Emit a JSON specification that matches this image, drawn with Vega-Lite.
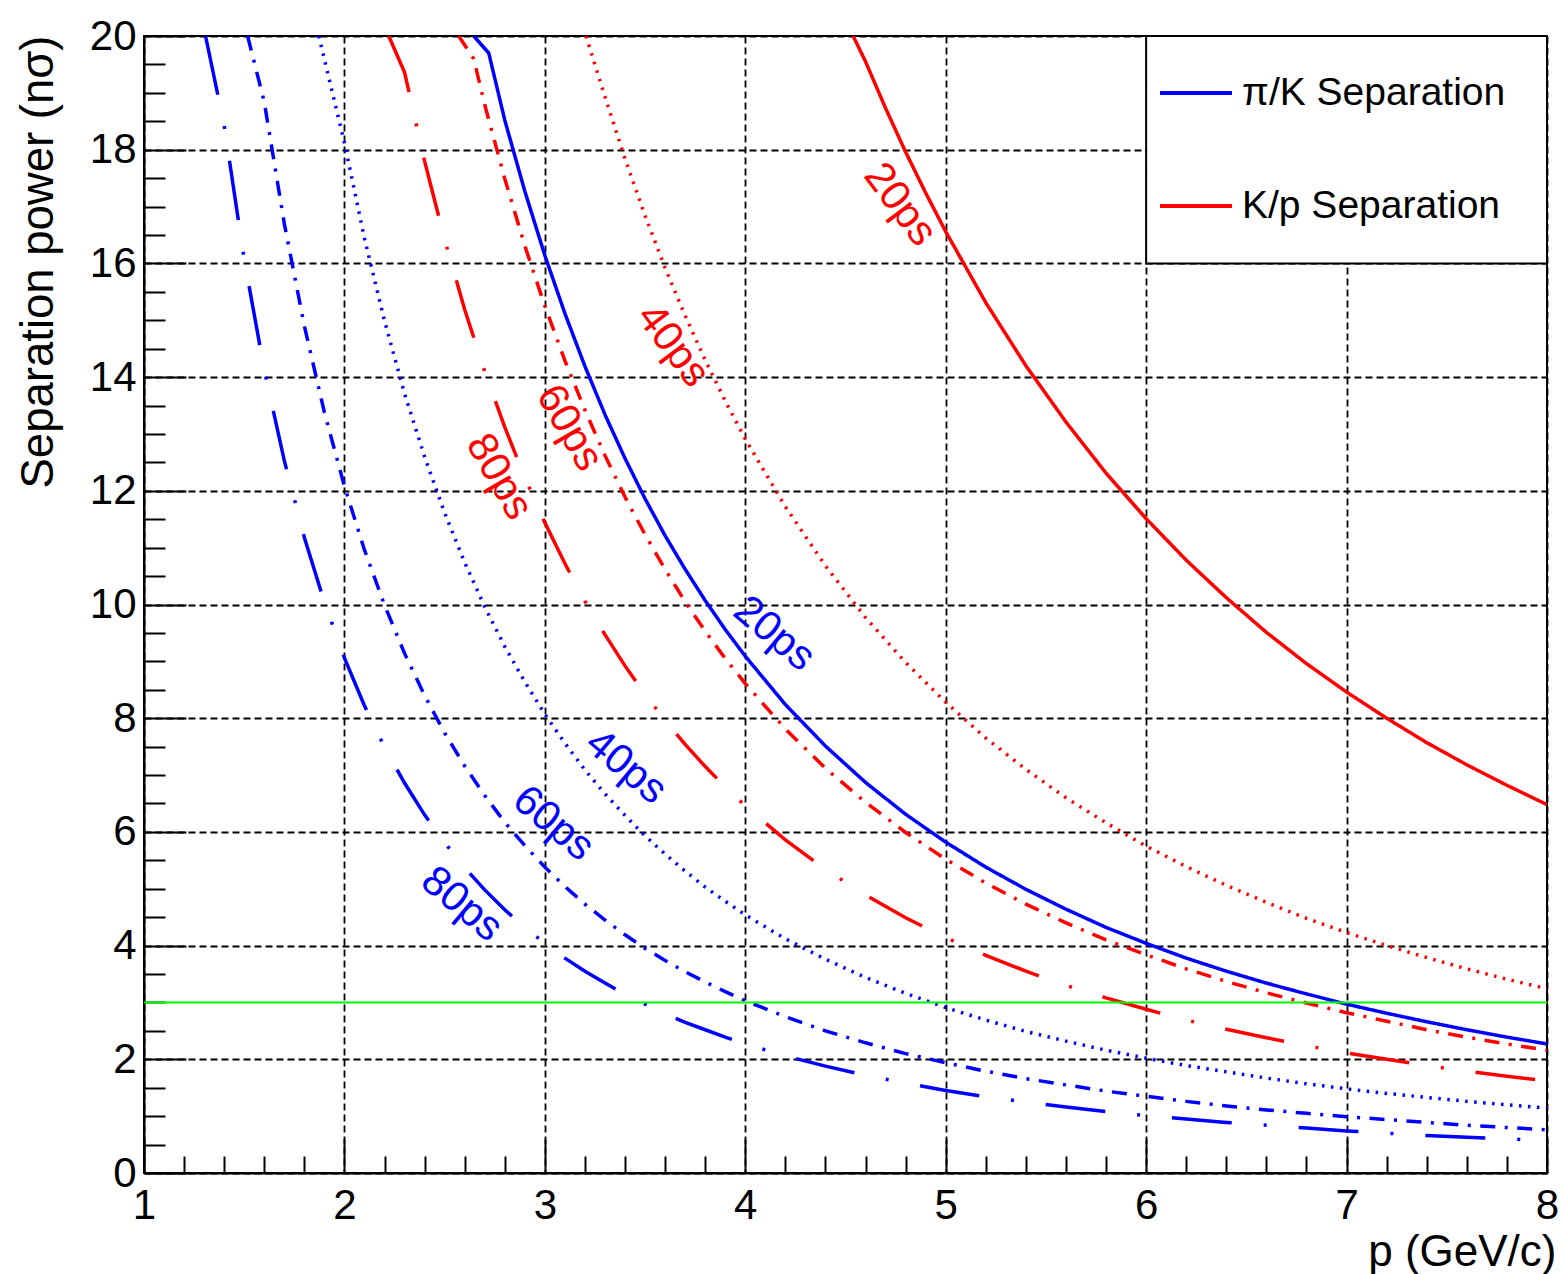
{
"$schema": "https://vega.github.io/schema/vega-lite/v6.json",
"width": 1403, "height": 1137,
"autosize": {"type": "none"},
"padding": {"left": 144, "top": 36, "right": 15, "bottom": 101},
"background": "white",
"config": {"view": {"stroke": "black", "strokeWidth": 2}, "font": "Liberation Sans"},
"datasets": {
"curves": [
{"p":2.645,"n":20,"pair":"π/K Separation","res":"20ps"},{"p":2.72,"n":19.7,"pair":"π/K Separation","res":"20ps"},{"p":2.8,"n":18.52,"pair":"π/K Separation","res":"20ps"},{"p":2.9,"n":17.27,"pair":"π/K Separation","res":"20ps"},{"p":3.0,"n":16.14,"pair":"π/K Separation","res":"20ps"},{"p":3.1,"n":15.12,"pair":"π/K Separation","res":"20ps"},{"p":3.2,"n":14.19,"pair":"π/K Separation","res":"20ps"},{"p":3.3,"n":13.34,"pair":"π/K Separation","res":"20ps"},{"p":3.4,"n":12.57,"pair":"π/K Separation","res":"20ps"},{"p":3.5,"n":11.86,"pair":"π/K Separation","res":"20ps"},{"p":3.6,"n":11.21,"pair":"π/K Separation","res":"20ps"},{"p":3.7,"n":10.62,"pair":"π/K Separation","res":"20ps"},{"p":3.8,"n":10.07,"pair":"π/K Separation","res":"20ps"},{"p":3.9,"n":9.56,"pair":"π/K Separation","res":"20ps"},{"p":4.0,"n":9.09,"pair":"π/K Separation","res":"20ps"},{"p":4.2,"n":8.24,"pair":"π/K Separation","res":"20ps"},{"p":4.4,"n":7.51,"pair":"π/K Separation","res":"20ps"},{"p":4.6,"n":6.87,"pair":"π/K Separation","res":"20ps"},{"p":4.8,"n":6.31,"pair":"π/K Separation","res":"20ps"},{"p":5.0,"n":5.82,"pair":"π/K Separation","res":"20ps"},{"p":5.2,"n":5.38,"pair":"π/K Separation","res":"20ps"},{"p":5.4,"n":4.99,"pair":"π/K Separation","res":"20ps"},{"p":5.6,"n":4.64,"pair":"π/K Separation","res":"20ps"},{"p":5.8,"n":4.32,"pair":"π/K Separation","res":"20ps"},{"p":6.0,"n":4.04,"pair":"π/K Separation","res":"20ps"},{"p":6.2,"n":3.78,"pair":"π/K Separation","res":"20ps"},{"p":6.4,"n":3.55,"pair":"π/K Separation","res":"20ps"},{"p":6.6,"n":3.34,"pair":"π/K Separation","res":"20ps"},{"p":6.8,"n":3.15,"pair":"π/K Separation","res":"20ps"},{"p":7.0,"n":2.97,"pair":"π/K Separation","res":"20ps"},{"p":7.2,"n":2.81,"pair":"π/K Separation","res":"20ps"},{"p":7.4,"n":2.66,"pair":"π/K Separation","res":"20ps"},{"p":7.6,"n":2.52,"pair":"π/K Separation","res":"20ps"},{"p":7.8,"n":2.39,"pair":"π/K Separation","res":"20ps"},{"p":8.0,"n":2.27,"pair":"π/K Separation","res":"20ps"},
{"p":1.872,"n":20,"pair":"π/K Separation","res":"40ps"},{"p":2.0,"n":18.12,"pair":"π/K Separation","res":"40ps"},{"p":2.1,"n":16.44,"pair":"π/K Separation","res":"40ps"},{"p":2.2,"n":14.99,"pair":"π/K Separation","res":"40ps"},{"p":2.3,"n":13.71,"pair":"π/K Separation","res":"40ps"},{"p":2.4,"n":12.6,"pair":"π/K Separation","res":"40ps"},{"p":2.5,"n":11.61,"pair":"π/K Separation","res":"40ps"},{"p":2.6,"n":10.74,"pair":"π/K Separation","res":"40ps"},{"p":2.7,"n":9.96,"pair":"π/K Separation","res":"40ps"},{"p":2.8,"n":9.26,"pair":"π/K Separation","res":"40ps"},{"p":2.9,"n":8.64,"pair":"π/K Separation","res":"40ps"},{"p":3.0,"n":8.07,"pair":"π/K Separation","res":"40ps"},{"p":3.1,"n":7.56,"pair":"π/K Separation","res":"40ps"},{"p":3.2,"n":7.09,"pair":"π/K Separation","res":"40ps"},{"p":3.3,"n":6.67,"pair":"π/K Separation","res":"40ps"},{"p":3.4,"n":6.29,"pair":"π/K Separation","res":"40ps"},{"p":3.5,"n":5.93,"pair":"π/K Separation","res":"40ps"},{"p":3.6,"n":5.61,"pair":"π/K Separation","res":"40ps"},{"p":3.7,"n":5.31,"pair":"π/K Separation","res":"40ps"},{"p":3.8,"n":5.03,"pair":"π/K Separation","res":"40ps"},{"p":3.9,"n":4.78,"pair":"π/K Separation","res":"40ps"},{"p":4.0,"n":4.54,"pair":"π/K Separation","res":"40ps"},{"p":4.2,"n":4.12,"pair":"π/K Separation","res":"40ps"},{"p":4.4,"n":3.76,"pair":"π/K Separation","res":"40ps"},{"p":4.6,"n":3.44,"pair":"π/K Separation","res":"40ps"},{"p":4.8,"n":3.16,"pair":"π/K Separation","res":"40ps"},{"p":5.0,"n":2.91,"pair":"π/K Separation","res":"40ps"},{"p":5.2,"n":2.69,"pair":"π/K Separation","res":"40ps"},{"p":5.4,"n":2.49,"pair":"π/K Separation","res":"40ps"},{"p":5.6,"n":2.32,"pair":"π/K Separation","res":"40ps"},{"p":5.8,"n":2.16,"pair":"π/K Separation","res":"40ps"},{"p":6.0,"n":2.02,"pair":"π/K Separation","res":"40ps"},{"p":6.2,"n":1.89,"pair":"π/K Separation","res":"40ps"},{"p":6.4,"n":1.78,"pair":"π/K Separation","res":"40ps"},{"p":6.6,"n":1.67,"pair":"π/K Separation","res":"40ps"},{"p":6.8,"n":1.57,"pair":"π/K Separation","res":"40ps"},{"p":7.0,"n":1.48,"pair":"π/K Separation","res":"40ps"},{"p":7.2,"n":1.4,"pair":"π/K Separation","res":"40ps"},{"p":7.4,"n":1.33,"pair":"π/K Separation","res":"40ps"},{"p":7.6,"n":1.26,"pair":"π/K Separation","res":"40ps"},{"p":7.8,"n":1.2,"pair":"π/K Separation","res":"40ps"},{"p":8.0,"n":1.14,"pair":"π/K Separation","res":"40ps"},
{"p":1.517,"n":20,"pair":"π/K Separation","res":"60ps"},{"p":1.6,"n":18.84,"pair":"π/K Separation","res":"60ps"},{"p":1.7,"n":16.7,"pair":"π/K Separation","res":"60ps"},{"p":1.8,"n":14.9,"pair":"π/K Separation","res":"60ps"},{"p":1.9,"n":13.38,"pair":"π/K Separation","res":"60ps"},{"p":2.0,"n":12.08,"pair":"π/K Separation","res":"60ps"},{"p":2.1,"n":10.96,"pair":"π/K Separation","res":"60ps"},{"p":2.2,"n":9.99,"pair":"π/K Separation","res":"60ps"},{"p":2.3,"n":9.14,"pair":"π/K Separation","res":"60ps"},{"p":2.4,"n":8.4,"pair":"π/K Separation","res":"60ps"},{"p":2.5,"n":7.74,"pair":"π/K Separation","res":"60ps"},{"p":2.6,"n":7.16,"pair":"π/K Separation","res":"60ps"},{"p":2.7,"n":6.64,"pair":"π/K Separation","res":"60ps"},{"p":2.8,"n":6.17,"pair":"π/K Separation","res":"60ps"},{"p":2.9,"n":5.76,"pair":"π/K Separation","res":"60ps"},{"p":3.0,"n":5.38,"pair":"π/K Separation","res":"60ps"},{"p":3.1,"n":5.04,"pair":"π/K Separation","res":"60ps"},{"p":3.2,"n":4.73,"pair":"π/K Separation","res":"60ps"},{"p":3.3,"n":4.45,"pair":"π/K Separation","res":"60ps"},{"p":3.4,"n":4.19,"pair":"π/K Separation","res":"60ps"},{"p":3.5,"n":3.95,"pair":"π/K Separation","res":"60ps"},{"p":3.6,"n":3.74,"pair":"π/K Separation","res":"60ps"},{"p":3.7,"n":3.54,"pair":"π/K Separation","res":"60ps"},{"p":3.8,"n":3.36,"pair":"π/K Separation","res":"60ps"},{"p":3.9,"n":3.19,"pair":"π/K Separation","res":"60ps"},{"p":4.0,"n":3.03,"pair":"π/K Separation","res":"60ps"},{"p":4.2,"n":2.75,"pair":"π/K Separation","res":"60ps"},{"p":4.4,"n":2.5,"pair":"π/K Separation","res":"60ps"},{"p":4.6,"n":2.29,"pair":"π/K Separation","res":"60ps"},{"p":4.8,"n":2.1,"pair":"π/K Separation","res":"60ps"},{"p":5.0,"n":1.94,"pair":"π/K Separation","res":"60ps"},{"p":5.2,"n":1.79,"pair":"π/K Separation","res":"60ps"},{"p":5.4,"n":1.66,"pair":"π/K Separation","res":"60ps"},{"p":5.6,"n":1.55,"pair":"π/K Separation","res":"60ps"},{"p":5.8,"n":1.44,"pair":"π/K Separation","res":"60ps"},{"p":6.0,"n":1.35,"pair":"π/K Separation","res":"60ps"},{"p":6.2,"n":1.26,"pair":"π/K Separation","res":"60ps"},{"p":6.4,"n":1.18,"pair":"π/K Separation","res":"60ps"},{"p":6.6,"n":1.11,"pair":"π/K Separation","res":"60ps"},{"p":6.8,"n":1.05,"pair":"π/K Separation","res":"60ps"},{"p":7.0,"n":0.99,"pair":"π/K Separation","res":"60ps"},{"p":7.2,"n":0.94,"pair":"π/K Separation","res":"60ps"},{"p":7.4,"n":0.89,"pair":"π/K Separation","res":"60ps"},{"p":7.6,"n":0.84,"pair":"π/K Separation","res":"60ps"},{"p":7.8,"n":0.8,"pair":"π/K Separation","res":"60ps"},{"p":8.0,"n":0.76,"pair":"π/K Separation","res":"60ps"},
{"p":1.307,"n":20,"pair":"π/K Separation","res":"80ps"},{"p":1.4,"n":18.43,"pair":"π/K Separation","res":"80ps"},{"p":1.5,"n":16.07,"pair":"π/K Separation","res":"80ps"},{"p":1.6,"n":14.13,"pair":"π/K Separation","res":"80ps"},{"p":1.7,"n":12.53,"pair":"π/K Separation","res":"80ps"},{"p":1.8,"n":11.18,"pair":"π/K Separation","res":"80ps"},{"p":1.9,"n":10.04,"pair":"π/K Separation","res":"80ps"},{"p":2.0,"n":9.06,"pair":"π/K Separation","res":"80ps"},{"p":2.1,"n":8.22,"pair":"π/K Separation","res":"80ps"},{"p":2.2,"n":7.49,"pair":"π/K Separation","res":"80ps"},{"p":2.3,"n":6.86,"pair":"π/K Separation","res":"80ps"},{"p":2.4,"n":6.3,"pair":"π/K Separation","res":"80ps"},{"p":2.5,"n":5.81,"pair":"π/K Separation","res":"80ps"},{"p":2.6,"n":5.37,"pair":"π/K Separation","res":"80ps"},{"p":2.7,"n":4.98,"pair":"π/K Separation","res":"80ps"},{"p":2.8,"n":4.63,"pair":"π/K Separation","res":"80ps"},{"p":2.9,"n":4.32,"pair":"π/K Separation","res":"80ps"},{"p":3.0,"n":4.04,"pair":"π/K Separation","res":"80ps"},{"p":3.1,"n":3.78,"pair":"π/K Separation","res":"80ps"},{"p":3.2,"n":3.55,"pair":"π/K Separation","res":"80ps"},{"p":3.3,"n":3.34,"pair":"π/K Separation","res":"80ps"},{"p":3.4,"n":3.14,"pair":"π/K Separation","res":"80ps"},{"p":3.5,"n":2.97,"pair":"π/K Separation","res":"80ps"},{"p":3.6,"n":2.8,"pair":"π/K Separation","res":"80ps"},{"p":3.7,"n":2.65,"pair":"π/K Separation","res":"80ps"},{"p":3.8,"n":2.52,"pair":"π/K Separation","res":"80ps"},{"p":3.9,"n":2.39,"pair":"π/K Separation","res":"80ps"},{"p":4.0,"n":2.27,"pair":"π/K Separation","res":"80ps"},{"p":4.2,"n":2.06,"pair":"π/K Separation","res":"80ps"},{"p":4.4,"n":1.88,"pair":"π/K Separation","res":"80ps"},{"p":4.6,"n":1.72,"pair":"π/K Separation","res":"80ps"},{"p":4.8,"n":1.58,"pair":"π/K Separation","res":"80ps"},{"p":5.0,"n":1.45,"pair":"π/K Separation","res":"80ps"},{"p":5.2,"n":1.34,"pair":"π/K Separation","res":"80ps"},{"p":5.4,"n":1.25,"pair":"π/K Separation","res":"80ps"},{"p":5.6,"n":1.16,"pair":"π/K Separation","res":"80ps"},{"p":5.8,"n":1.08,"pair":"π/K Separation","res":"80ps"},{"p":6.0,"n":1.01,"pair":"π/K Separation","res":"80ps"},{"p":6.2,"n":0.95,"pair":"π/K Separation","res":"80ps"},{"p":6.4,"n":0.89,"pair":"π/K Separation","res":"80ps"},{"p":6.6,"n":0.84,"pair":"π/K Separation","res":"80ps"},{"p":6.8,"n":0.79,"pair":"π/K Separation","res":"80ps"},{"p":7.0,"n":0.74,"pair":"π/K Separation","res":"80ps"},{"p":7.2,"n":0.7,"pair":"π/K Separation","res":"80ps"},{"p":7.4,"n":0.66,"pair":"π/K Separation","res":"80ps"},{"p":7.6,"n":0.63,"pair":"π/K Separation","res":"80ps"},{"p":7.8,"n":0.6,"pair":"π/K Separation","res":"80ps"},{"p":8.0,"n":0.57,"pair":"π/K Separation","res":"80ps"},
{"p":4.538,"n":20,"pair":"K/p Separation","res":"20ps"},{"p":4.6,"n":19.55,"pair":"K/p Separation","res":"20ps"},{"p":4.7,"n":18.73,"pair":"K/p Separation","res":"20ps"},{"p":4.8,"n":17.96,"pair":"K/p Separation","res":"20ps"},{"p":4.9,"n":17.24,"pair":"K/p Separation","res":"20ps"},{"p":5.0,"n":16.56,"pair":"K/p Separation","res":"20ps"},{"p":5.2,"n":15.31,"pair":"K/p Separation","res":"20ps"},{"p":5.4,"n":14.2,"pair":"K/p Separation","res":"20ps"},{"p":5.6,"n":13.21,"pair":"K/p Separation","res":"20ps"},{"p":5.8,"n":12.31,"pair":"K/p Separation","res":"20ps"},{"p":6.0,"n":11.51,"pair":"K/p Separation","res":"20ps"},{"p":6.2,"n":10.78,"pair":"K/p Separation","res":"20ps"},{"p":6.4,"n":10.12,"pair":"K/p Separation","res":"20ps"},{"p":6.6,"n":9.51,"pair":"K/p Separation","res":"20ps"},{"p":6.8,"n":8.96,"pair":"K/p Separation","res":"20ps"},{"p":7.0,"n":8.46,"pair":"K/p Separation","res":"20ps"},{"p":7.2,"n":8.0,"pair":"K/p Separation","res":"20ps"},{"p":7.4,"n":7.57,"pair":"K/p Separation","res":"20ps"},{"p":7.6,"n":7.18,"pair":"K/p Separation","res":"20ps"},{"p":7.8,"n":6.82,"pair":"K/p Separation","res":"20ps"},{"p":8.0,"n":6.48,"pair":"K/p Separation","res":"20ps"},
{"p":3.205,"n":20,"pair":"K/p Separation","res":"40ps"},{"p":3.3,"n":18.93,"pair":"K/p Separation","res":"40ps"},{"p":3.4,"n":17.84,"pair":"K/p Separation","res":"40ps"},{"p":3.5,"n":16.84,"pair":"K/p Separation","res":"40ps"},{"p":3.6,"n":15.92,"pair":"K/p Separation","res":"40ps"},{"p":3.7,"n":15.08,"pair":"K/p Separation","res":"40ps"},{"p":3.8,"n":14.3,"pair":"K/p Separation","res":"40ps"},{"p":3.9,"n":13.58,"pair":"K/p Separation","res":"40ps"},{"p":4.0,"n":12.91,"pair":"K/p Separation","res":"40ps"},{"p":4.2,"n":11.72,"pair":"K/p Separation","res":"40ps"},{"p":4.4,"n":10.68,"pair":"K/p Separation","res":"40ps"},{"p":4.6,"n":9.77,"pair":"K/p Separation","res":"40ps"},{"p":4.8,"n":8.98,"pair":"K/p Separation","res":"40ps"},{"p":5.0,"n":8.28,"pair":"K/p Separation","res":"40ps"},{"p":5.2,"n":7.65,"pair":"K/p Separation","res":"40ps"},{"p":5.4,"n":7.1,"pair":"K/p Separation","res":"40ps"},{"p":5.6,"n":6.6,"pair":"K/p Separation","res":"40ps"},{"p":5.8,"n":6.16,"pair":"K/p Separation","res":"40ps"},{"p":6.0,"n":5.75,"pair":"K/p Separation","res":"40ps"},{"p":6.2,"n":5.39,"pair":"K/p Separation","res":"40ps"},{"p":6.4,"n":5.06,"pair":"K/p Separation","res":"40ps"},{"p":6.6,"n":4.76,"pair":"K/p Separation","res":"40ps"},{"p":6.8,"n":4.48,"pair":"K/p Separation","res":"40ps"},{"p":7.0,"n":4.23,"pair":"K/p Separation","res":"40ps"},{"p":7.2,"n":4.0,"pair":"K/p Separation","res":"40ps"},{"p":7.4,"n":3.79,"pair":"K/p Separation","res":"40ps"},{"p":7.6,"n":3.59,"pair":"K/p Separation","res":"40ps"},{"p":7.8,"n":3.41,"pair":"K/p Separation","res":"40ps"},{"p":8.0,"n":3.24,"pair":"K/p Separation","res":"40ps"},
{"p":2.57,"n":20,"pair":"K/p Separation","res":"60ps"},{"p":2.645,"n":19.6,"pair":"K/p Separation","res":"60ps"},{"p":2.7,"n":18.79,"pair":"K/p Separation","res":"60ps"},{"p":2.8,"n":17.49,"pair":"K/p Separation","res":"60ps"},{"p":2.9,"n":16.31,"pair":"K/p Separation","res":"60ps"},{"p":3.0,"n":15.25,"pair":"K/p Separation","res":"60ps"},{"p":3.1,"n":14.29,"pair":"K/p Separation","res":"60ps"},{"p":3.2,"n":13.42,"pair":"K/p Separation","res":"60ps"},{"p":3.3,"n":12.62,"pair":"K/p Separation","res":"60ps"},{"p":3.4,"n":11.89,"pair":"K/p Separation","res":"60ps"},{"p":3.5,"n":11.23,"pair":"K/p Separation","res":"60ps"},{"p":3.6,"n":10.62,"pair":"K/p Separation","res":"60ps"},{"p":3.7,"n":10.05,"pair":"K/p Separation","res":"60ps"},{"p":3.8,"n":9.53,"pair":"K/p Separation","res":"60ps"},{"p":3.9,"n":9.05,"pair":"K/p Separation","res":"60ps"},{"p":4.0,"n":8.61,"pair":"K/p Separation","res":"60ps"},{"p":4.2,"n":7.81,"pair":"K/p Separation","res":"60ps"},{"p":4.4,"n":7.12,"pair":"K/p Separation","res":"60ps"},{"p":4.6,"n":6.52,"pair":"K/p Separation","res":"60ps"},{"p":4.8,"n":5.99,"pair":"K/p Separation","res":"60ps"},{"p":5.0,"n":5.52,"pair":"K/p Separation","res":"60ps"},{"p":5.2,"n":5.1,"pair":"K/p Separation","res":"60ps"},{"p":5.4,"n":4.73,"pair":"K/p Separation","res":"60ps"},{"p":5.6,"n":4.4,"pair":"K/p Separation","res":"60ps"},{"p":5.8,"n":4.1,"pair":"K/p Separation","res":"60ps"},{"p":6.0,"n":3.84,"pair":"K/p Separation","res":"60ps"},{"p":6.2,"n":3.59,"pair":"K/p Separation","res":"60ps"},{"p":6.4,"n":3.37,"pair":"K/p Separation","res":"60ps"},{"p":6.6,"n":3.17,"pair":"K/p Separation","res":"60ps"},{"p":6.8,"n":2.99,"pair":"K/p Separation","res":"60ps"},{"p":7.0,"n":2.82,"pair":"K/p Separation","res":"60ps"},{"p":7.2,"n":2.67,"pair":"K/p Separation","res":"60ps"},{"p":7.4,"n":2.52,"pair":"K/p Separation","res":"60ps"},{"p":7.6,"n":2.39,"pair":"K/p Separation","res":"60ps"},{"p":7.8,"n":2.27,"pair":"K/p Separation","res":"60ps"},{"p":8.0,"n":2.16,"pair":"K/p Separation","res":"60ps"},
{"p":2.221,"n":20,"pair":"K/p Separation","res":"80ps"},{"p":2.3,"n":19.36,"pair":"K/p Separation","res":"80ps"},{"p":2.4,"n":17.8,"pair":"K/p Separation","res":"80ps"},{"p":2.5,"n":16.42,"pair":"K/p Separation","res":"80ps"},{"p":2.6,"n":15.19,"pair":"K/p Separation","res":"80ps"},{"p":2.7,"n":14.1,"pair":"K/p Separation","res":"80ps"},{"p":2.8,"n":13.12,"pair":"K/p Separation","res":"80ps"},{"p":2.9,"n":12.23,"pair":"K/p Separation","res":"80ps"},{"p":3.0,"n":11.44,"pair":"K/p Separation","res":"80ps"},{"p":3.1,"n":10.72,"pair":"K/p Separation","res":"80ps"},{"p":3.2,"n":10.06,"pair":"K/p Separation","res":"80ps"},{"p":3.3,"n":9.47,"pair":"K/p Separation","res":"80ps"},{"p":3.4,"n":8.92,"pair":"K/p Separation","res":"80ps"},{"p":3.5,"n":8.42,"pair":"K/p Separation","res":"80ps"},{"p":3.6,"n":7.96,"pair":"K/p Separation","res":"80ps"},{"p":3.7,"n":7.54,"pair":"K/p Separation","res":"80ps"},{"p":3.8,"n":7.15,"pair":"K/p Separation","res":"80ps"},{"p":3.9,"n":6.79,"pair":"K/p Separation","res":"80ps"},{"p":4.0,"n":6.46,"pair":"K/p Separation","res":"80ps"},{"p":4.2,"n":5.86,"pair":"K/p Separation","res":"80ps"},{"p":4.4,"n":5.34,"pair":"K/p Separation","res":"80ps"},{"p":4.6,"n":4.89,"pair":"K/p Separation","res":"80ps"},{"p":4.8,"n":4.49,"pair":"K/p Separation","res":"80ps"},{"p":5.0,"n":4.14,"pair":"K/p Separation","res":"80ps"},{"p":5.2,"n":3.83,"pair":"K/p Separation","res":"80ps"},{"p":5.4,"n":3.55,"pair":"K/p Separation","res":"80ps"},{"p":5.6,"n":3.3,"pair":"K/p Separation","res":"80ps"},{"p":5.8,"n":3.08,"pair":"K/p Separation","res":"80ps"},{"p":6.0,"n":2.88,"pair":"K/p Separation","res":"80ps"},{"p":6.2,"n":2.69,"pair":"K/p Separation","res":"80ps"},{"p":6.4,"n":2.53,"pair":"K/p Separation","res":"80ps"},{"p":6.6,"n":2.38,"pair":"K/p Separation","res":"80ps"},{"p":6.8,"n":2.24,"pair":"K/p Separation","res":"80ps"},{"p":7.0,"n":2.11,"pair":"K/p Separation","res":"80ps"},{"p":7.2,"n":2.0,"pair":"K/p Separation","res":"80ps"},{"p":7.4,"n":1.89,"pair":"K/p Separation","res":"80ps"},{"p":7.6,"n":1.79,"pair":"K/p Separation","res":"80ps"},{"p":7.8,"n":1.7,"pair":"K/p Separation","res":"80ps"},{"p":8.0,"n":1.62,"pair":"K/p Separation","res":"80ps"}
]
},
"resolve": {"axis": {"x": "independent", "y": "independent"}},
"layer": [
{
"data": {"name": "curves"},
"mark": {"type": "line", "strokeWidth": 3.5, "clip": true},
"encoding": {
"x": {"field": "p", "type": "quantitative", "scale": {"domain": [1, 8], "nice": false, "zero": false},
"axis": {"orient": "bottom", "values": [1,2,3,4,5,6,7,8], "format": "d", "ticks": false, "grid": true, "gridColor": "black", "gridDash": [7, 4], "gridWidth": 1.8, "domain": true, "domainColor": "black", "domainWidth": 2, "labelFont": "Liberation Sans", "labelFontSize": 42, "labelColor": "black", "labelBaseline": "alphabetic", "labelPadding": 45, "labelFlush": false, "labelOverlap": false, "title": "p (GeV/c)", "titleFont": "Liberation Sans", "titleFontSize": 44, "titleFontWeight": "normal", "titleColor": "black", "titleAlign": "right", "titleAnchor": "end", "titleBaseline": "alphabetic", "titleX": 1412, "titleY": 92}},
"y": {"field": "n", "type": "quantitative", "scale": {"domain": [0, 20], "nice": false, "zero": false},
"axis": {"orient": "left", "values": [0,2,4,6,8,10,12,14,16,18,20], "format": "d", "ticks": false, "grid": true, "gridColor": "black", "gridDash": [7, 4], "gridWidth": 1.8, "domain": true, "domainColor": "black", "domainWidth": 2, "labelFont": "Liberation Sans", "labelFontSize": 42, "labelColor": "black", "labelAlign": "right", "labelBaseline": "middle", "labelPadding": 8, "labelFlush": false, "labelOverlap": false, "title": "Separation power (nσ)", "titleFont": "Liberation Sans", "titleFontSize": 45.5, "titleFontWeight": "normal", "titleColor": "black", "titleAngle": 270, "titleAlign": "right", "titleAnchor": "end", "titleBaseline": "alphabetic", "titleX": -92, "titleY": -1}},
"color": {"field": "pair", "type": "nominal", "scale": {"domain": ["π/K Separation", "K/p Separation"], "range": ["#0000ff", "#ff0000"]},
"legend": {"orient": "none", "legendX": 1014, "legendY": 19, "title": null, "symbolType": "stroke", "symbolSize": 5184, "symbolStrokeWidth": 4, "labelFont": "Liberation Sans", "labelFontSize": 39, "labelColor": "black", "labelOffset": 8, "labelLimit": 500, "rowPadding": 55, "padding": 0}},
"strokeDash": {"field": "res", "type": "nominal", "scale": {"domain": ["20ps", "40ps", "60ps", "80ps"], "range": [[1, 0], [2.5, 6.5], [15, 9.5, 3, 9.5], [60, 32, 3, 32]]}, "legend": null}
}
},
{
"data": {"values": [{"level": 3}]},
"mark": {"type": "rule", "color": "#00ff00", "strokeWidth": 2},
"encoding": {"y": {"field": "level", "type": "quantitative", "scale": {"domain": [0, 20], "nice": false, "zero": false}, "axis": null}}
},
{
"data": {"values": [{"p": 4.146, "n": 9.49, "label": "20ps"}, {"p": 3.406, "n": 7.15, "label": "40ps"}, {"p": 3.044, "n": 6.15, "label": "60ps"}, {"p": 2.587, "n": 4.73, "label": "80ps"}]},
"mark": {"type": "text", "color": "#0000ff", "font": "Liberation Sans", "fontSize": 42, "angle": 40, "align": "center", "baseline": "middle"},
"encoding": {
"x": {"field": "p", "type": "quantitative", "scale": {"domain": [1, 8], "nice": false, "zero": false},
"axis": {"orient": "bottom", "values": [1,1.2,1.4,1.6,1.8,2,2.2,2.4,2.6,2.8,3,3.2,3.4,3.6,3.8,4,4.2,4.4,4.6,4.8,5,5.2,5.4,5.6,5.8,6,6.2,6.4,6.6,6.8,7,7.2,7.4,7.6,7.8,8], "labels": false, "grid": false, "domain": false, "title": null, "ticks": true, "tickColor": "black", "tickWidth": 2, "tickSize": {"condition": {"test": "abs(datum.value - round(datum.value)) < 0.001", "value": -34}, "value": -17}}},
"y": {"field": "n", "type": "quantitative", "scale": {"domain": [0, 20], "nice": false, "zero": false},
"axis": {"orient": "left", "values": [0,0.5,1,1.5,2,2.5,3,3.5,4,4.5,5,5.5,6,6.5,7,7.5,8,8.5,9,9.5,10,10.5,11,11.5,12,12.5,13,13.5,14,14.5,15,15.5,16,16.5,17,17.5,18,18.5,19,19.5,20], "labels": false, "grid": false, "domain": false, "title": null, "ticks": true, "tickColor": "black", "tickWidth": 2, "tickSize": {"condition": {"test": "abs(datum.value / 2 - round(datum.value / 2)) < 0.001", "value": -42}, "value": -21}}},
"text": {"field": "label"}
}
},
{
"data": {"values": [{"p": 4.774, "n": 17.04, "label": "20ps"}, {"p": 3.641, "n": 14.56, "label": "40ps"}]},
"mark": {"type": "text", "color": "#ff0000", "font": "Liberation Sans", "fontSize": 42, "angle": 53, "align": "center", "baseline": "middle"},
"encoding": {
"x": {"field": "p", "type": "quantitative", "scale": {"domain": [1, 8], "nice": false, "zero": false}, "axis": null},
"y": {"field": "n", "type": "quantitative", "scale": {"domain": [0, 20], "nice": false, "zero": false}, "axis": null},
"text": {"field": "label"}
}
},
{
"data": {"values": [{"p": 3.124, "n": 13.11, "label": "60ps"}, {"p": 2.774, "n": 12.25, "label": "80ps"}]},
"mark": {"type": "text", "color": "#ff0000", "font": "Liberation Sans", "fontSize": 42, "angle": 60, "align": "center", "baseline": "middle"},
"encoding": {
"x": {"field": "p", "type": "quantitative", "scale": {"domain": [1, 8], "nice": false, "zero": false}, "axis": null},
"y": {"field": "n", "type": "quantitative", "scale": {"domain": [0, 20], "nice": false, "zero": false}, "axis": null},
"text": {"field": "label"}
}
},
{
"data": {"values": [{"box": "legend"}]},
"mark": {"type": "rect", "fill": "white", "stroke": "black", "strokeWidth": 2},
"encoding": {
"x": {"datum": 6, "type": "quantitative", "scale": {"domain": [1, 8], "nice": false, "zero": false}, "axis": null},
"x2": {"datum": 8},
"y": {"datum": 16, "type": "quantitative", "scale": {"domain": [0, 20], "nice": false, "zero": false}, "axis": null},
"y2": {"datum": 20}
}
}
]
}
